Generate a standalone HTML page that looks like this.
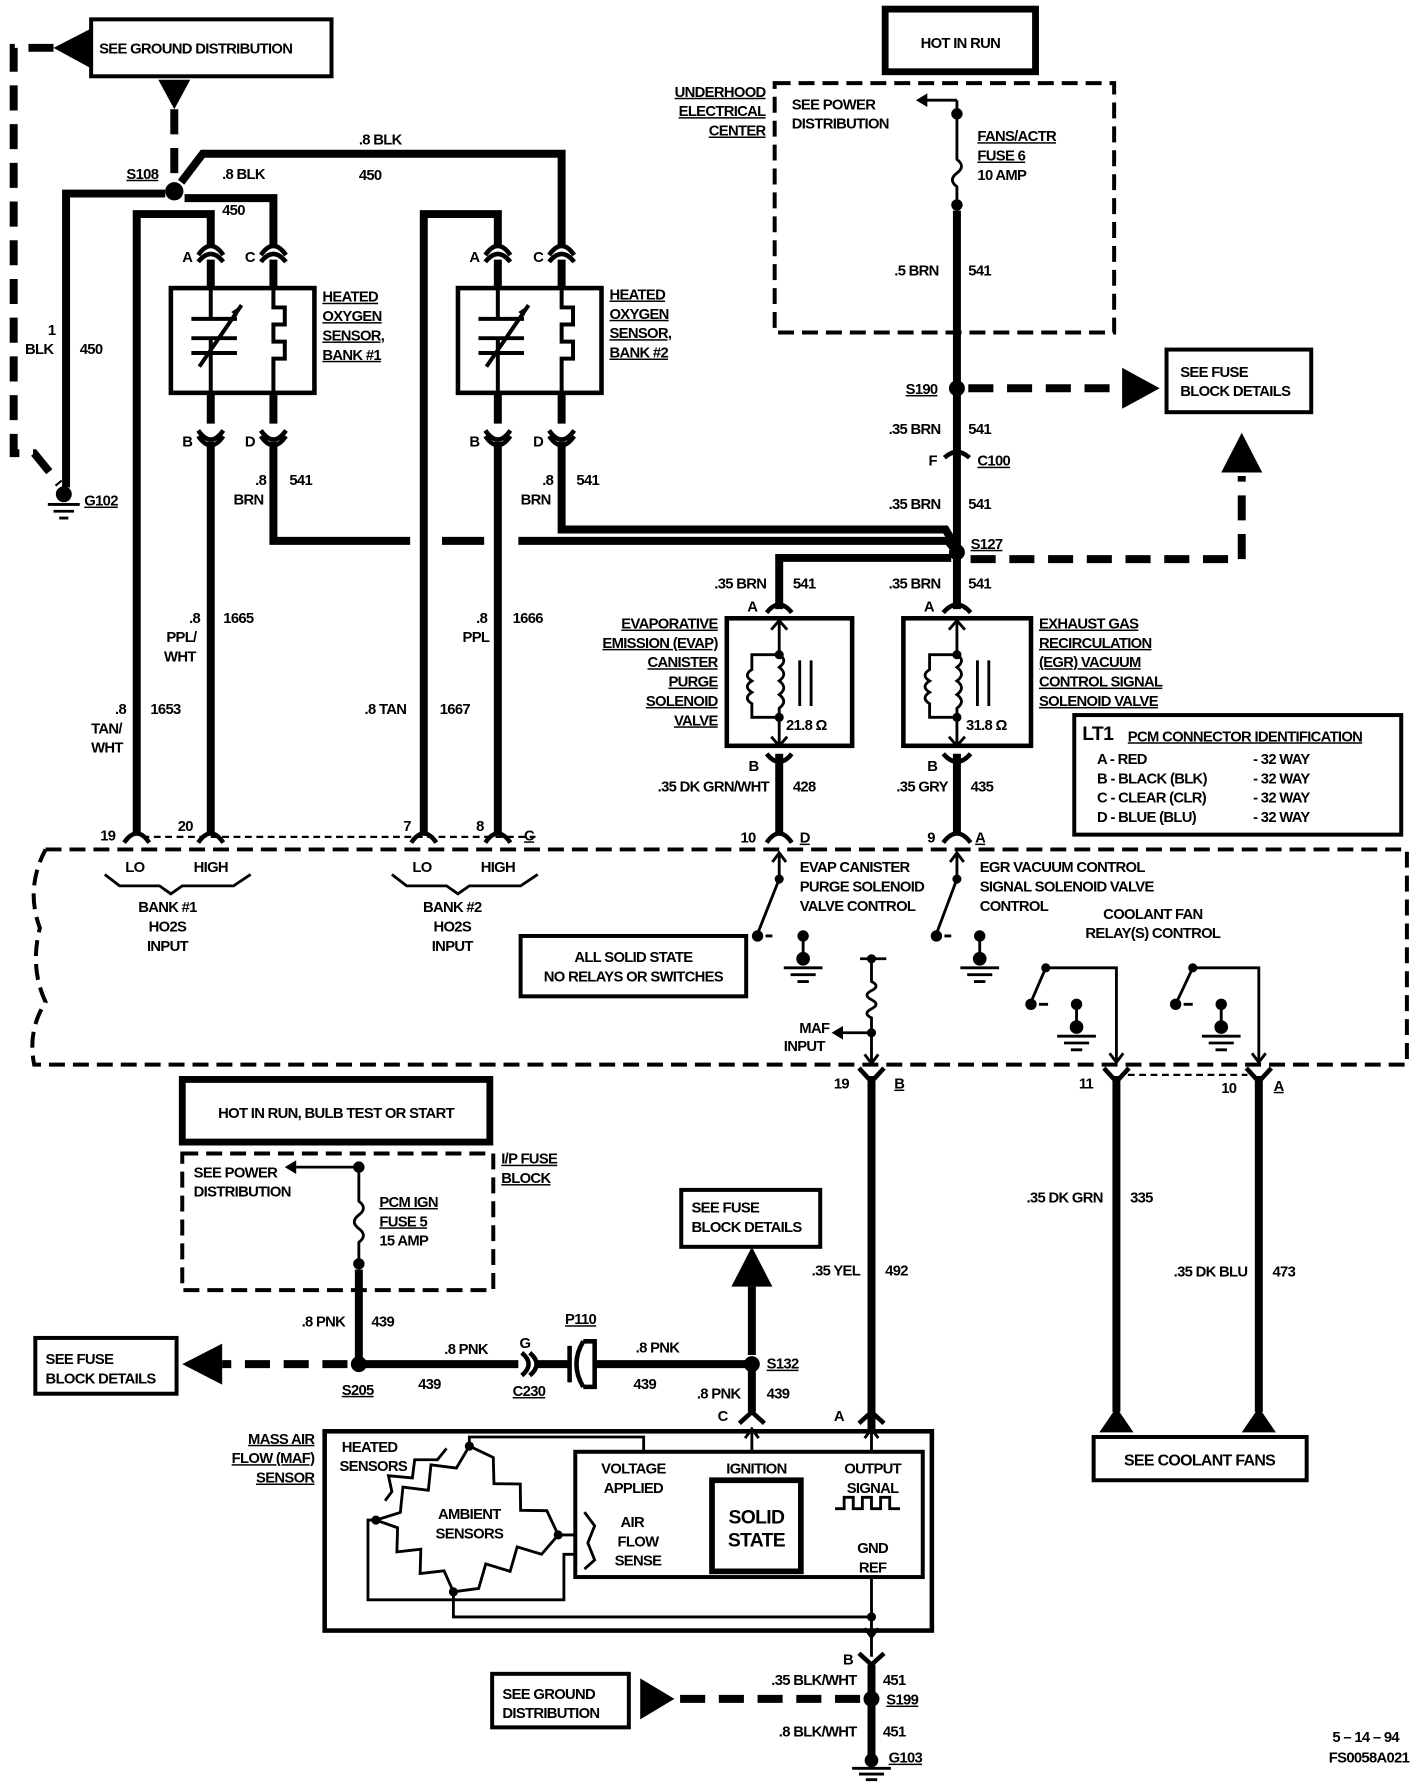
<!DOCTYPE html>
<html><head><meta charset="utf-8"><style>
html,body{margin:0;padding:0;background:#fff}
svg{display:block}
text{font-family:"Liberation Sans",sans-serif;font-weight:bold;font-size:13px;letter-spacing:-0.6px;fill:#000}
.w{fill:none;stroke:#000;stroke-width:7;stroke-linejoin:miter}
.t{fill:none;stroke:#000;stroke-width:2.5}
.m{fill:none;stroke:#000;stroke-width:3.5}
.d{fill:none;stroke:#000;stroke-width:7;stroke-dasharray:22 12}
.db{fill:none;stroke:#000;stroke-width:3.5;stroke-dasharray:14 7}
.dt{fill:none;stroke:#000;stroke-width:2;stroke-dasharray:6 4}
.c{fill:none;stroke:#000;stroke-width:4}
</style></head><body>
<svg width="1424" height="1782" viewBox="0 0 1250 1565" preserveAspectRatio="none" xmlns="http://www.w3.org/2000/svg">
<rect x="80" y="17" width="211" height="50" class="m"/>
<text x="87" y="47">SEE GROUND DISTRIBUTION</text>
<polygon points="80,25 80,60 47,42"/>
<path class="d" d="M47,42 H12 V398 H30 L52,425"/>
<polygon points="139,70 167,70 153,96"/>
<path class="d" d="M153,96 V158"/>
<circle cx="153" cy="168" r="8"/>
<text x="111" y="157" text-decoration="underline">S108</text>
<path class="w" d="M145,170 H58 V428"/>
<path class="w" d="M159,160 L178,135 H493 V215"/>
<path class="w" d="M162,174 H240 V215"/>
<text x="315" y="127">.8 BLK</text><text x="315" y="158">450</text>
<text x="195" y="157">.8 BLK</text><text x="195" y="189">450</text>
<text x="42" y="294">1</text><text x="22" y="311">BLK</text><text x="70" y="311">450</text>
<circle cx="56" cy="434" r="7"/>
<path class="t" d="M42,443 H70 M47,449 H65 M52,455 H60"/>
<text x="74" y="444" text-decoration="underline">G102</text>
<!-- bank1 -->
<path class="w" d="M120,732 V188 H185 V215"/>
<rect x="150" y="253" width="126" height="92" class="c"/>
<path class="w" d="M185,228 V253 M240,228 V253 M185,345 V372 M240,345 V372"/>
<path class="w" d="M185,388 V732 M240,388 V475 H360 M388,475 H425 M455,475 H832 L840,485"/>
<g class="c">
<path d="M174,224 Q185,208 196,224 M174,230 Q185,216 196,230"/>
<path d="M229,224 Q240,208 251,224 M229,230 Q240,216 251,230"/>
<path d="M174,378 Q185,394 196,378 M174,383 Q185,399 196,383"/>
<path d="M229,378 Q240,394 251,378 M229,383 Q240,399 251,383"/>
</g>
<g class="m"><path d="M185,253 V280 M168,280 H208 M168,297 H208 M185,297 V345 M168,310 H208 M175,322 L212,268 M240,253 V270 H250 V285 H240 V300 H250 V315 H240 V345"/></g>
<polygon points="212,268 203,274 208,278"/>
<text x="160" y="230">A</text><text x="215" y="230">C</text><text x="160" y="392">B</text><text x="215" y="392">D</text>
<g text-decoration="underline"><text x="283" y="265">HEATED</text><text x="283" y="282">OXYGEN</text><text x="283" y="299">SENSOR,</text><text x="283" y="316">BANK #1</text></g>
<text x="224" y="426">.8</text><text x="205" y="443">BRN</text><text x="254" y="426">541</text>
<text x="166" y="547">.8</text><text x="146" y="564">PPL/</text><text x="144" y="581">WHT</text><text x="196" y="547">1665</text>
<text x="101" y="627">.8</text><text x="80" y="644">TAN/</text><text x="80" y="661">WHT</text><text x="132" y="627">1653</text>
<!-- bank2 -->
<path class="w" d="M372,732 V188 H437 V215"/>
<rect x="402" y="253" width="126" height="92" class="c"/>
<path class="w" d="M437,228 V253 M493,228 V253 M437,345 V372 M493,345 V372"/>
<path class="w" d="M437,388 V732 M493,388 V465 H830 L840,482"/>
<g class="c">
<path d="M426,224 Q437,208 448,224 M426,230 Q437,216 448,230"/>
<path d="M482,224 Q493,208 504,224 M482,230 Q493,216 504,230"/>
<path d="M426,378 Q437,394 448,378 M426,383 Q437,399 448,383"/>
<path d="M482,378 Q493,394 504,378 M482,383 Q493,399 504,383"/>
</g>
<g class="m"><path d="M437,253 V280 M420,280 H460 M420,297 H460 M437,297 V345 M420,310 H460 M427,322 L464,268 M493,253 V270 H503 V285 H493 V300 H503 V315 H493 V345"/></g>
<polygon points="464,268 455,274 460,278"/>
<text x="412" y="230">A</text><text x="468" y="230">C</text><text x="412" y="392">B</text><text x="468" y="392">D</text>
<g text-decoration="underline"><text x="535" y="263">HEATED</text><text x="535" y="280">OXYGEN</text><text x="535" y="297">SENSOR,</text><text x="535" y="314">BANK #2</text></g>
<text x="476" y="426">.8</text><text x="457" y="443">BRN</text><text x="506" y="426">541</text>
<text x="418" y="547">.8</text><text x="406" y="564">PPL</text><text x="450" y="547">1666</text>
<text x="320" y="627">.8 TAN</text><text x="386" y="627">1667</text>
<!-- top right -->
<rect x="777" y="8" width="132" height="55" fill="none" stroke="#000" stroke-width="6"/>
<text x="843" y="42" text-anchor="middle">HOT IN RUN</text>
<rect x="680" y="73" width="298" height="219" class="db"/>
<g text-decoration="underline" text-anchor="end"><text x="672" y="85">UNDERHOOD</text><text x="672" y="102">ELECTRICAL</text><text x="672" y="119">CENTER</text></g>
<text x="695" y="96">SEE POWER</text><text x="695" y="113">DISTRIBUTION</text>
<path class="t" d="M840,88 H812"/><polygon points="804,88 814,82 814,94"/>
<circle cx="840" cy="100" r="5"/>
<path class="t" d="M840,88 V140 Q848,146 840,152 Q832,158 840,164 V180"/>
<circle cx="840" cy="180" r="5"/>
<g text-decoration="underline"><text x="858" y="124">FANS/ACTR</text><text x="858" y="141">FUSE 6</text></g><text x="858" y="158">10 AMP</text>
<path class="w" d="M840,185 V535"/>
<text x="785" y="242">.5 BRN</text><text x="850" y="242">541</text>
<circle cx="840" cy="341" r="7"/>
<text x="795" y="346" text-decoration="underline">S190</text>
<path class="d" d="M850,341 H985"/><polygon points="985,323 985,359 1018,341"/>
<rect x="1024" y="307" width="127" height="55" class="m"/>
<text x="1036" y="331">SEE FUSE</text><text x="1036" y="348">BLOCK DETAILS</text>
<text x="780" y="381">.35 BRN</text><text x="850" y="381">541</text>
<path class="c" d="M829,402 Q840,392 851,402"/>
<text x="815" y="409">F</text><text x="858" y="409" text-decoration="underline">C100</text>
<text x="780" y="447">.35 BRN</text><text x="850" y="447">541</text>
<circle cx="840" cy="485" r="7"/>
<text x="852" y="482" text-decoration="underline">S127</text>
<path class="d" d="M852,491 H1090 V418"/><polygon points="1072,415 1108,415 1090,380"/>
<path class="w" d="M835,490 H684 V535"/>
<text x="627" y="517">.35 BRN</text><text x="696" y="517">541</text>
<text x="780" y="517">.35 BRN</text><text x="850" y="517">541</text>
<!-- EVAP -->
<rect x="638" y="543" width="110" height="112" class="c"/>
<path class="c" d="M673,538 Q684,524 695,538 M828,538 Q840,524 852,538"/>
<text x="656" y="537">A</text><text x="811" y="537">A</text>
<g class="t"><path d="M684,545 V575 M684,630 V655 M677,553 L684,545 L691,553 M677,647 L684,655 L691,647"/>
<path d="M684,575 Q692,580 684,586 Q692,592 684,598 Q692,604 684,610 Q692,616 684,622 V630 M684,575 H660 V588 Q652,593 660,598 Q652,603 660,608 Q652,613 660,618 V630 H684 M702,580 V620 M712,580 V620"/></g>
<circle cx="684" cy="575" r="4"/><circle cx="684" cy="630" r="4"/>
<text x="690" y="641">21.8 Ω</text>
<g text-decoration="underline" text-anchor="end"><text x="630" y="552">EVAPORATIVE</text><text x="630" y="569">EMISSION (EVAP)</text><text x="630" y="586">CANISTER</text><text x="630" y="603">PURGE</text><text x="630" y="620">SOLENOID</text><text x="630" y="637">VALVE</text></g>
<!-- EGR -->
<rect x="793" y="543" width="112" height="112" class="c"/>
<g class="t"><path d="M840,545 V575 M840,630 V655 M833,553 L840,545 L847,553 M833,647 L840,655 L847,647"/>
<path d="M840,575 Q848,580 840,586 Q848,592 840,598 Q848,604 840,610 Q848,616 840,622 V630 M840,575 H816 V588 Q808,593 816,598 Q808,603 816,608 Q808,613 816,618 V630 H840 M858,580 V620 M868,580 V620"/></g>
<circle cx="840" cy="575" r="4"/><circle cx="840" cy="630" r="4"/>
<text x="848" y="641">31.8 Ω</text>
<g text-decoration="underline"><text x="912" y="552">EXHAUST GAS</text><text x="912" y="569">RECIRCULATION</text><text x="912" y="586">(EGR) VACUUM</text><text x="912" y="603">CONTROL SIGNAL</text><text x="912" y="620">SOLENOID VALVE</text></g>
<path class="w" d="M684,662 V732 M840,662 V732"/>
<path class="c" d="M673,662 Q684,676 695,662 M828,662 Q840,676 852,662"/>
<text x="657" y="677">B</text><text x="814" y="677">B</text>
<text x="675" y="695" text-anchor="end">.35 DK GRN/WHT</text><text x="696" y="695">428</text>
<text x="832" y="695" text-anchor="end">.35 GRY</text><text x="852" y="695">435</text>
<!-- LT1 box -->
<rect x="943" y="628" width="287" height="105" class="m"/>
<text x="950" y="650" style="font-size:17px">LT1</text>
<text x="990" y="651" text-decoration="underline">PCM CONNECTOR IDENTIFICATION</text>
<text x="963" y="671">A  -  RED</text><text x="1100" y="671">-    32 WAY</text>
<text x="963" y="688">B  -  BLACK (BLK)</text><text x="1100" y="688">-    32 WAY</text>
<text x="963" y="705">C  -  CLEAR (CLR)</text><text x="1100" y="705">-    32 WAY</text>
<text x="963" y="722">D  -  BLUE (BLU)</text><text x="1100" y="722">-    32 WAY</text>
<!-- PCM dashed box -->
<path class="db" d="M40,746 H1235 V935 H30 Q24,905 40,880 Q26,850 35,815 Q22,780 40,746"/>
<path class="dt" d="M125,735 H470"/>
<g class="c">
<path d="M109,740 Q120,724 131,740 M174,740 Q185,724 196,740 M361,740 Q372,724 383,740 M426,740 Q437,724 448,740 M673,740 Q684,724 695,740 M828,740 Q840,724 852,740"/>
</g>
<text x="88" y="738">19</text><text x="156" y="730">20</text><text x="354" y="730">7</text><text x="418" y="730">8</text><text x="460" y="738" text-decoration="underline">C</text>
<text x="650" y="740">10</text><text x="702" y="740" text-decoration="underline">D</text><text x="814" y="740">9</text><text x="856" y="740" text-decoration="underline">A</text>
<text x="110" y="766">LO</text><text x="170" y="766">HIGH</text>
<path class="t" d="M92,768 L105,778 H140 L150,785 L160,778 H205 L220,768"/>
<text x="147" y="801" text-anchor="middle">BANK #1</text><text x="147" y="818" text-anchor="middle">HO2S</text><text x="147" y="835" text-anchor="middle">INPUT</text>
<text x="362" y="766">LO</text><text x="422" y="766">HIGH</text>
<path class="t" d="M344,768 L357,778 H392 L402,785 L412,778 H457 L472,768"/>
<text x="397" y="801" text-anchor="middle">BANK #2</text><text x="397" y="818" text-anchor="middle">HO2S</text><text x="397" y="835" text-anchor="middle">INPUT</text>
<path class="t" d="M684,750 V772 L665,820 M678,757 L684,749 L690,757 M672,822 H678 M705,822 V840"/>
<circle cx="684" cy="772" r="4"/><circle cx="665" cy="822" r="5"/><circle cx="705" cy="822" r="5"/><circle cx="705" cy="842" r="6"/>
<path class="t" d="M688,850 H722 M694,856 H716 M700,862 H710"/>
<text x="702" y="766">EVAP CANISTER</text><text x="702" y="783">PURGE SOLENOID</text><text x="702" y="800">VALVE CONTROL</text>
<path class="t" d="M840,750 V772 L822,820 M834,757 L840,749 L846,757 M829,822 H835 M860,822 V840"/>
<circle cx="840" cy="772" r="4"/><circle cx="822" cy="822" r="5"/><circle cx="860" cy="822" r="5"/><circle cx="860" cy="842" r="6"/>
<path class="t" d="M843,850 H877 M849,856 H871 M855,862 H865"/>
<text x="860" y="766">EGR VACUUM CONTROL</text><text x="860" y="783">SIGNAL SOLENOID VALVE</text><text x="860" y="800">CONTROL</text>
<rect x="457" y="822" width="198" height="53" class="m"/>
<text x="556" y="845" text-anchor="middle">ALL SOLID STATE</text><text x="556" y="862" text-anchor="middle">NO RELAYS OR SWITCHES</text>
<path class="t" d="M755,842 H778 M765,842 V862 Q773,866 765,870 Q757,874 765,878 Q773,882 765,886 Q757,890 765,894 V935 M765,907 H738 M759,926 L765,934 L771,926"/>
<polygon points="730,907 740,901 740,913"/>
<circle cx="765" cy="842" r="4"/><circle cx="765" cy="907" r="4"/>
<text x="728" y="907" text-anchor="end">MAF</text><text x="724" y="923" text-anchor="end">INPUT</text>
<text x="1012" y="807" text-anchor="middle">COOLANT FAN</text><text x="1012" y="824" text-anchor="middle">RELAY(S) CONTROL</text>
<path class="t" d="M918,850 H980 V933 M974,925 L980,933 L986,925 M918,850 L905,880 M912,882 H920 M945,882 V900"/>
<circle cx="918" cy="850" r="4"/><circle cx="905" cy="882" r="5"/><circle cx="945" cy="882" r="5"/><circle cx="945" cy="902" r="6"/>
<path class="t" d="M928,910 H962 M934,916 H956 M940,922 H950"/>
<path class="t" d="M1047,850 H1105 V933 M1099,925 L1105,933 L1111,925 M1047,850 L1032,882 M1039,882 H1047 M1072,882 V900"/>
<circle cx="1047" cy="850" r="4"/><circle cx="1032" cy="882" r="5"/><circle cx="1072" cy="882" r="5"/><circle cx="1072" cy="902" r="6"/>
<path class="t" d="M1055,910 H1089 M1061,916 H1083 M1067,922 H1077"/>
<path class="c" d="M754,938 L765,950 L776,938 M969,938 L980,950 L991,938 M1094,938 L1105,950 L1116,938"/>
<path class="dt" d="M990,944 H1095"/>
<text x="732" y="956">19</text><text x="785" y="956" text-decoration="underline">B</text>
<text x="947" y="956">11</text><text x="1072" y="960">10</text><text x="1118" y="958" text-decoration="underline">A</text>
<path class="w" d="M765,945 V1255 M980,945 V1240 M1105,945 V1240"/>
<polygon points="965,1258 995,1258 980,1236"/><polygon points="1090,1258 1120,1258 1105,1236"/>
<rect x="960" y="1262" width="187" height="38" class="m"/>
<text x="1053" y="1287" text-anchor="middle" style="font-size:14px">SEE COOLANT FANS</text>
<text x="968" y="1056" text-anchor="end">.35 DK GRN</text><text x="992" y="1056">335</text>
<text x="1095" y="1121" text-anchor="end">.35 DK BLU</text><text x="1117" y="1121">473</text>
<text x="755" y="1120" text-anchor="end">.35 YEL</text><text x="777" y="1120">492</text>
<rect x="160" y="948" width="270" height="55" fill="none" stroke="#000" stroke-width="6"/>
<text x="295" y="982" text-anchor="middle">HOT IN RUN, BULB TEST OR START</text>
<rect x="160" y="1013" width="273" height="120" class="db"/>
<g text-decoration="underline"><text x="440" y="1022">I/P FUSE</text><text x="440" y="1039">BLOCK</text></g>
<text x="170" y="1034">SEE POWER</text><text x="170" y="1051">DISTRIBUTION</text>
<path class="t" d="M315,1025 H260"/><polygon points="250,1025 260,1019 260,1031"/>
<circle cx="315" cy="1025" r="5"/>
<path class="t" d="M315,1025 V1055 Q323,1061 315,1067 Q307,1073 315,1079 Q323,1085 315,1091 V1110"/>
<circle cx="315" cy="1110" r="5"/>
<g text-decoration="underline"><text x="333" y="1060">PCM IGN</text><text x="333" y="1077">FUSE 5</text></g><text x="333" y="1094">15 AMP</text>
<path class="w" d="M315,1115 V1198 H455 M470,1198 H500 M522,1198 H660 V1240"/>
<text x="303" y="1165" text-anchor="end">.8 PNK</text><text x="326" y="1165">439</text>
<circle cx="315" cy="1198" r="7"/>
<text x="300" y="1225" text-decoration="underline">S205</text>
<path class="d" d="M305,1198 H195"/><polygon points="195,1180 195,1216 160,1198"/>
<rect x="31" y="1175" width="124" height="49" class="m"/>
<text x="40" y="1198">SEE FUSE</text><text x="40" y="1215">BLOCK DETAILS</text>
<path class="c" d="M458,1188 Q470,1198 458,1208 M465,1188 Q477,1198 465,1208"/>
<path class="c" d="M500,1182 V1214 M512,1178 Q500,1198 512,1218 M512,1178 H522 V1218 H512"/>
<text x="390" y="1189">.8 PNK</text><text x="367" y="1220">439</text>
<text x="456" y="1184">G</text><text x="450" y="1226" text-decoration="underline">C230</text>
<text x="496" y="1163" text-decoration="underline">P110</text>
<text x="558" y="1188">.8 PNK</text><text x="556" y="1220">439</text>
<circle cx="660" cy="1198" r="7"/>
<text x="673" y="1202" text-decoration="underline">S132</text>
<path class="w" d="M660,1190 V1130"/><polygon points="642,1130 678,1130 660,1095"/>
<rect x="598" y="1045" width="122" height="50" class="m"/>
<text x="607" y="1065">SEE FUSE</text><text x="607" y="1082">BLOCK DETAILS</text>
<text x="650" y="1228" text-anchor="end">.8 PNK</text><text x="673" y="1228">439</text>
<path class="c" d="M649,1250 L660,1240 L671,1250 M754,1250 L765,1240 L776,1250"/>
<text x="630" y="1248">C</text><text x="732" y="1248">A</text>
<g text-decoration="underline" text-anchor="end"><text x="276" y="1268">MASS AIR</text><text x="276" y="1285">FLOW (MAF)</text><text x="276" y="1302">SENSOR</text></g>
<rect x="285" y="1257" width="533" height="175" class="c"/>
<rect x="505" y="1275" width="305" height="110" class="m"/>
<rect x="625" y="1300" width="78" height="80" fill="none" stroke="#000" stroke-width="5"/>
<text x="664" y="1338" text-anchor="middle" style="font-size:17px">SOLID</text><text x="664" y="1358" text-anchor="middle" style="font-size:17px">STATE</text>
<text x="300" y="1275">HEATED</text><text x="298" y="1292">SENSORS</text>
<text x="412" y="1334" text-anchor="middle">AMBIENT</text><text x="412" y="1351" text-anchor="middle">SENSORS</text>
<text x="556" y="1294" text-anchor="middle">VOLTAGE</text><text x="556" y="1311" text-anchor="middle">APPLIED</text>
<text x="664" y="1294" text-anchor="middle">IGNITION</text>
<text x="766" y="1294" text-anchor="middle">OUTPUT</text><text x="766" y="1311" text-anchor="middle">SIGNAL</text>
<text x="555" y="1341" text-anchor="middle">AIR</text><text x="560" y="1358" text-anchor="middle">FLOW</text><text x="560" y="1375" text-anchor="middle">SENSE</text>
<text x="766" y="1364" text-anchor="middle">GND</text><text x="766" y="1381" text-anchor="middle">REF</text>
<path class="t" d="M733,1325 H741 V1315 H749 V1325 H757 V1315 H765 V1325 H773 V1315 H781 V1325 H790"/>
<path class="t" d="M513,1328 L522,1340 L516,1355 L522,1370 L513,1378"/>
<g class="t">
<path d="M660,1255 V1275 M765,1255 V1275 M654,1263 L660,1255 L666,1263 M759,1263 L765,1255 L771,1263"/>
<path d="M412,1270 V1262 H565 V1275"/>
<path d="M412,1270 L433,1280 L433.6,1303 L456.7,1303.3 L457,1326.4 L480,1326.7 L490,1348 H505"/>
<path d="M490,1348 L475.4,1365 L454,1358.5 L447.8,1380 L426.4,1373.5 L420.2,1395 L398,1398"/>
<path d="M398,1398 L389.8,1379.5 L368.8,1381.9 L369.4,1360.6 L348.4,1362.9 L349,1341.7 L330,1335"/>
<path d="M330,1335 L351.4,1328.3 L353.7,1306 L376,1308.8 L378.3,1286.5 L400.6,1289.3 L412,1270"/>
<path d="M338,1318 L344,1310 L341,1296 L362,1298 L364,1282 L384,1282 L392,1272"/>
<path d="M330,1335 H323 V1405 H495 V1365 H505"/>
<path d="M398,1398 V1420 H765 M765,1385 V1455"/>
</g>
<circle cx="412" cy="1270" r="4"/><circle cx="330" cy="1335" r="4"/><circle cx="490" cy="1348" r="4"/><circle cx="398" cy="1398" r="4"/><circle cx="765" cy="1420" r="4"/>
<path class="t" d="M759,1430 L765,1438 L771,1430"/>
<path class="c" d="M754,1452 L765,1462 L776,1452"/>
<text x="740" y="1462">B</text>
<path class="w" d="M765,1462 V1545"/>
<text x="752" y="1480" text-anchor="end">.35 BLK/WHT</text><text x="775" y="1480">451</text>
<circle cx="765" cy="1492" r="7"/>
<text x="778" y="1497" text-decoration="underline">S199</text>
<path class="d" d="M755,1492 H590"/><polygon points="562,1474 562,1510 592,1492"/>
<rect x="432" y="1470" width="120" height="47" class="m"/>
<text x="441" y="1492">SEE GROUND</text><text x="441" y="1509">DISTRIBUTION</text>
<text x="752" y="1525" text-anchor="end">.8 BLK/WHT</text><text x="775" y="1525">451</text>
<circle cx="765" cy="1546" r="6"/>
<path class="t" d="M748,1553 H782 M754,1558 H776 M760,1563 H770"/>
<text x="780" y="1548" text-decoration="underline">G103</text>
<text x="1228" y="1530" text-anchor="end">5 – 14 – 94</text>
<text x="1237" y="1548" text-anchor="end">FS0058A021</text>
</svg>
</body></html>
